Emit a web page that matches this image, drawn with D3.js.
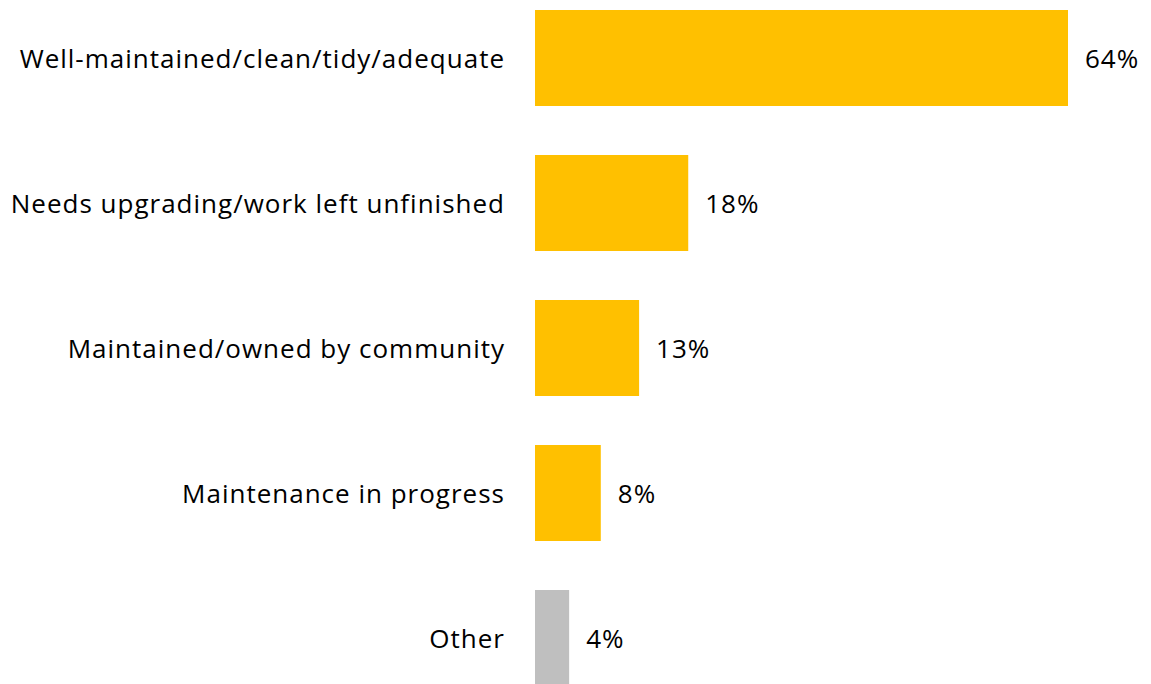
<!DOCTYPE html>
<html><head><meta charset="utf-8">
<script src="https://cdn.jsdelivr.net/npm/d3@7"></script>
<style>body{margin:0;background:#fff}svg{display:block}text{font-family:"Open Sans",sans-serif;fill:#000}</style>
</head><body><svg id="c" width="1151" height="684"></svg>
<script>
const categories = ["Well-maintained/clean/tidy/adequate","Needs upgrading/work left unfinished","Maintained/owned by community","Maintenance in progress","Other"];
const values = [64, 18.4, 12.5, 7.9, 4.1];
const valueLabels = ["64%","18%","13%","8%","4%"];
const colors = ["#FFC000","#FFC000","#FFC000","#FFC000","#BFBFBF"];

const svg = d3.select("#c");
const x = d3.scaleLinear().domain([0, 64]).range([535, 1068]);
const y = d3.scaleBand().domain(categories).range([10, 686]).paddingInner(0.338).paddingOuter(0);

svg.selectAll("rect").data(categories).join("rect")
  .attr("x", x(0)).attr("y", d => y(d))
  .attr("width", (d,i) => x(values[i]) - x(0))
  .attr("height", y.bandwidth())
  .attr("fill", (d,i) => colors[i]);

svg.selectAll("text.cat").data(categories).join("text").attr("class","cat")
  .attr("x", 505).attr("y", d => y(d) + y.bandwidth()/2)
  .attr("text-anchor","end").attr("dominant-baseline","central")
  .style("font-size","26px").style("letter-spacing","1.0px").text(d => d);

svg.selectAll("text.val").data(categories).join("text").attr("class","val")
  .attr("x", (d,i) => x(values[i]) + 17).attr("y", d => y(d) + y.bandwidth()/2)
  .attr("dominant-baseline","central")
  .style("font-size","26px").style("letter-spacing","1.0px").text((d,i) => valueLabels[i]);
</script></body></html>
